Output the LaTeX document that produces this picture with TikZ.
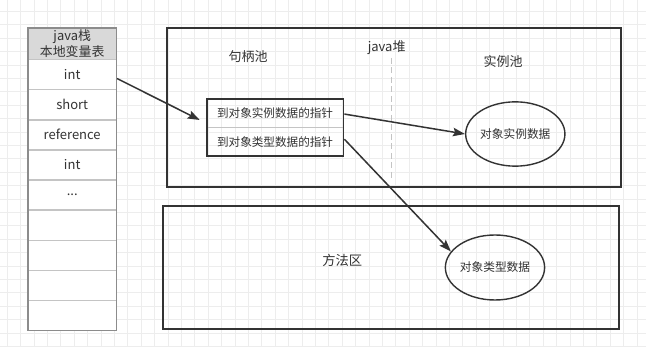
\documentclass[tikz,border=0pt]{standalone}
\usepackage{fontspec}
\setmainfont{Noto Sans CJK SC}
\usetikzlibrary{arrows.meta,calc,shapes.geometric}
\definecolor{ink}{HTML}{333333}
\definecolor{gridc}{HTML}{EDEDED}
\definecolor{stackc}{HTML}{8C8C8C}
\definecolor{sepc}{HTML}{C4C4C4}
\definecolor{headc}{HTML}{D9D9D9}
\tikzset{
  gridline/.style={draw=gridc,line width=0.8pt},
  rowbox/.style={minimum width=88pt,minimum height=30.1pt,inner sep=0pt,text=ink,font=\fontsize{13}{15}\selectfont,fill=white,anchor=north west},
  bigbox/.style={draw=ink,line width=1.6pt,inner sep=0pt},
  handlecell/.style={minimum width=136.3pt,minimum height=28.35pt,inner sep=0pt,text=ink,font=\fontsize{11.6}{13}\selectfont},
  dataell/.style={ellipse,draw=ink,line width=1.4pt,inner sep=0pt,text=ink,font=\fontsize{11.7}{13}\selectfont},
  lbl/.style={text=ink,font=\fontsize{13}{15}\selectfont,inner sep=0pt},
  arr/.style={draw=ink,line width=1.5pt,-{Stealth[length=12pt,width=8.5pt,inset=2pt]}},
}
\begin{document}
\begin{tikzpicture}[x=1pt,y=-1pt]
\useasboundingbox (0,0) rectangle (646,347);
\fill[white] (0,0) rectangle (646,347);
% grid
\foreach \i in {0,...,47} \draw[gridline] ({7.2+13.4*\i},0) -- ({7.2+13.4*\i},347);
\foreach \j in {0,...,25} \draw[gridline] (0,{11.4+13.4*\j}) -- (646,{11.4+13.4*\j});

% java stack
\node[rowbox,fill=headc,minimum height=31.3pt,align=center,font=\fontsize{12.9}{15.7}\selectfont] (head) at (28,28) {java栈\\本地变量表};
\node[rowbox] (r1) at (28,59.3) {int};
\node[rowbox] (r2) at (28,89.4) {short};
\node[rowbox] (r3) at (28,119.5) {reference};
\node[rowbox] (r4) at (28,149.6) {int};
\node[rowbox] (r5) at (28,179.7) {...};
\node[rowbox] (r6) at (28,209.8) {};
\node[rowbox] (r7) at (28,239.9) {};
\node[rowbox] (r8) at (28,270.0) {};
\node[rowbox] (r9) at (28,300.1) {};
\foreach \k in {1,2,3,4,5,6,7,8} \draw[sepc,line width=1.4pt] (r\k.south west) -- (r\k.south east);
\draw[sepc,line width=1.4pt] (head.south west) -- (head.south east);
\draw[stackc,line width=1.6pt] (head.north west) rectangle (r9.south east);

% heap
\node[bigbox,minimum width=454pt,minimum height=159pt] (heap) at (394,107.5) {};
\node[lbl] (hpool) at (248,57) {句柄池};
\node[lbl] (heapname) at (386.7,47.7) {java堆};
\node[lbl] (ipool) at (503,61.7) {实例池};
\coordinate (dtop) at (391.7,58);
\coordinate (dbot) at (391.7,179);
\draw[sepc,line width=1.4pt,dash pattern=on 6pt off 3.5pt] (dtop) -- (dbot);

% handle box
\node[handlecell,anchor=north west] (h1) at (206.7,99) {到对象实例数据的指针};
\node[handlecell,anchor=north west] (h2) at (206.7,127.35) {到对象类型数据的指针};
\draw[sepc,line width=1.4pt] (h1.south west) -- (h1.south east);
\draw[ink,line width=1.6pt] (h1.north west) rectangle (h2.south east);

\node[dataell,minimum width=94pt,minimum height=64.3pt] (e1) at (515.3,134) {对象实例数据};

% method area
\node[bigbox,minimum width=456pt,minimum height=123.5pt] (method) at (391.2,267.5) {};
\node[lbl,font=\fontsize{13.3}{15}\selectfont] (mname) at (342.3,260) {方法区};
\node[dataell,minimum width=93.4pt,minimum height=65pt] (e2) at (495,267.5) {对象类型数据};

% arrows
\draw[arr] ($(r1.east)+(0.7,4)$) -- ($(h1.west)+(-7,6.6)$);
\draw[arr] ($(h1.east)+(1,0.7)$) -- (e1.west);
\draw[arr] ($(h2.east)+(1,-2.5)$) -- (e2.160);
\end{tikzpicture}
\end{document}
